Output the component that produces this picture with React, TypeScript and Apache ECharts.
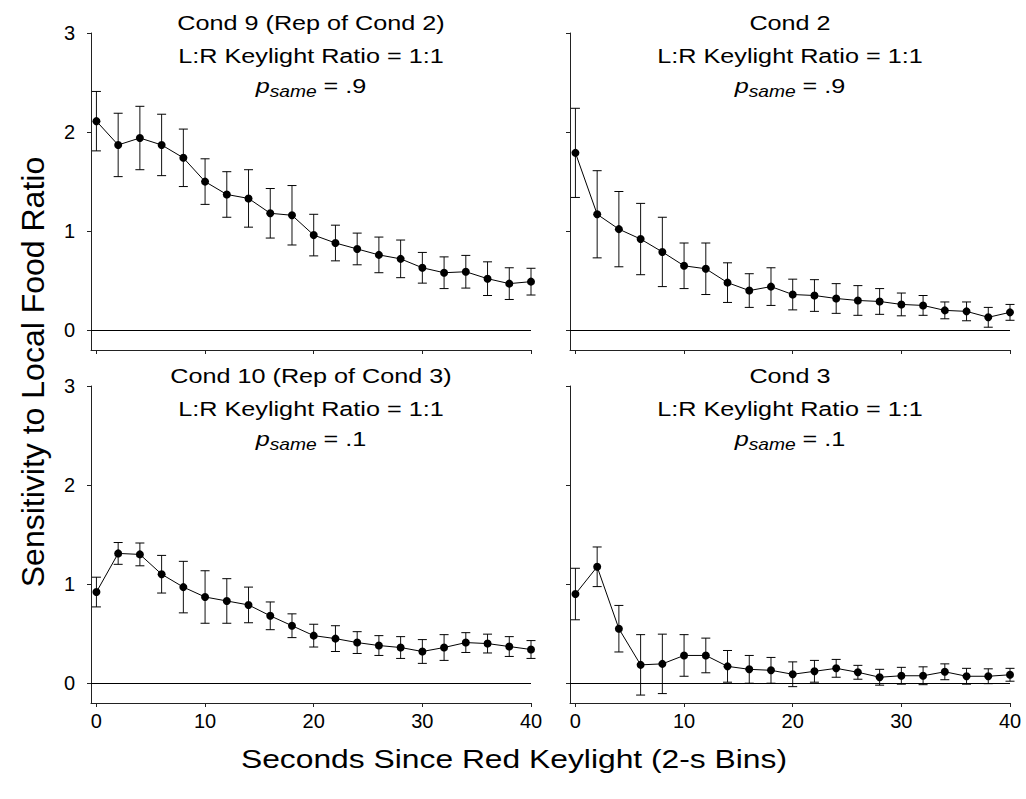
import React, { useEffect, useRef } from 'react';
import * as echarts from 'echarts';

// Time bins (s since red keylight)
const bins = [0, 2, 4, 6, 8, 10, 12, 14, 16, 18, 20, 22, 24, 26, 28, 30, 32, 34, 36, 38, 40];

// Cond 9 (Rep of Cond 2)
const cond9Mean = [2.11, 1.87, 1.94, 1.87, 1.74, 1.50, 1.37, 1.33, 1.18, 1.16, 0.96, 0.88, 0.82, 0.76, 0.72, 0.63, 0.58, 0.59, 0.52, 0.47, 0.49];
const cond9Err = [0.30, 0.32, 0.32, 0.31, 0.29, 0.23, 0.23, 0.29, 0.25, 0.30, 0.21, 0.18, 0.16, 0.18, 0.19, 0.155, 0.16, 0.165, 0.17, 0.16, 0.135];

// Cond 2
const cond2Mean = [1.79, 1.17, 1.02, 0.92, 0.79, 0.65, 0.62, 0.48, 0.40, 0.44, 0.36, 0.35, 0.32, 0.30, 0.29, 0.26, 0.25, 0.20, 0.19, 0.13, 0.18];
const cond2Err = [0.45, 0.44, 0.38, 0.36, 0.35, 0.23, 0.26, 0.20, 0.17, 0.19, 0.155, 0.16, 0.15, 0.15, 0.13, 0.115, 0.10, 0.085, 0.095, 0.10, 0.08];

// Cond 10 (Rep of Cond 3)
const cond10Mean = [0.92, 1.31, 1.30, 1.10, 0.97, 0.87, 0.83, 0.79, 0.68, 0.58, 0.48, 0.45, 0.41, 0.38, 0.36, 0.32, 0.36, 0.41, 0.40, 0.37, 0.34];
const cond10Err = [0.15, 0.11, 0.115, 0.19, 0.26, 0.265, 0.225, 0.18, 0.14, 0.12, 0.115, 0.13, 0.11, 0.10, 0.11, 0.12, 0.13, 0.10, 0.095, 0.10, 0.09];

// Cond 3
const cond3Mean = [0.90, 1.175, 0.55, 0.185, 0.195, 0.28, 0.28, 0.17, 0.14, 0.13, 0.09, 0.12, 0.15, 0.11, 0.06, 0.075, 0.075, 0.115, 0.07, 0.07, 0.085];
const cond3Err = [0.26, 0.20, 0.235, 0.305, 0.30, 0.21, 0.175, 0.16, 0.14, 0.13, 0.125, 0.11, 0.09, 0.07, 0.08, 0.085, 0.09, 0.08, 0.08, 0.075, 0.065];

const panelTitles = ['Cond 9 (Rep of Cond 2)', 'Cond 2', 'Cond 10 (Rep of Cond 3)', 'Cond 3'];
const ratioLabels = ['L:R Keylight Ratio = 1:1', 'L:R Keylight Ratio = 1:1', 'L:R Keylight Ratio = 1:1', 'L:R Keylight Ratio = 1:1'];
const pSameValues = ['.9', '.9', '.1', '.1'];
const panelMeans = [cond9Mean, cond2Mean, cond10Mean, cond3Mean];
const panelErrs = [cond9Err, cond2Err, cond10Err, cond3Err];

const xTicks = [0, 10, 20, 30, 40];
const yTicks = [0, 1, 2, 3];

const xTitle = 'Seconds Since Red Keylight (2-s Bins)';
const yTitle = 'Sensitivity to Local Food Ratio';

const FONT = '"Liberation Sans", Arial, Helvetica, sans-serif';
const SX = 1.2;

export default function App() {
  const ref = useRef<HTMLDivElement>(null);

  useEffect(() => {
    document.body.style.margin = '0';
    const chart = echarts.init(ref.current as HTMLDivElement, null, { renderer: 'svg' });

    const layout = [
      { left: 91, top: 33 },
      { left: 570, top: 33 },
      { left: 91, top: 386 },
      { left: 570, top: 386 },
    ];
    const W = 440;
    const H = 317;

    const grid = layout.map((l) => ({ left: l.left, top: l.top, width: W, height: H, containLabel: false }));

    const xAxis = layout.map((_, i) => ({
      type: 'value',
      gridIndex: i,
      min: -0.5,
      max: 40,
      axisLine: { show: true, onZero: false, lineStyle: { color: '#222', width: 1 } },
      axisTick: { show: true, length: 4, customValues: xTicks, lineStyle: { color: '#222', width: 1 } },
      axisLabel: {
        show: i >= 2,
        customValues: xTicks,
        fontSize: 20,
        color: '#000',
        margin: 8,
        fontFamily: FONT,
      },
      splitLine: { show: false },
    }));

    const yAxis = layout.map((_, i) => ({
      type: 'value',
      gridIndex: i,
      min: -0.2,
      max: 3,
      axisLine: { show: true, onZero: false, lineStyle: { color: '#222', width: 1 } },
      axisTick: { show: true, length: 4, customValues: yTicks, lineStyle: { color: '#222', width: 1 } },
      axisLabel: {
        show: i % 2 === 0,
        customValues: yTicks,
        fontSize: 20,
        color: '#000',
        margin: 16,
        fontFamily: FONT,
      },
      splitLine: { show: false },
    }));

    const series: any[] = [];
    panelMeans.forEach((mean, i) => {
      const err = panelErrs[i];
      series.push({
        type: 'custom',
        xAxisIndex: i,
        yAxisIndex: i,
        z: 2,
        silent: true,
        clip: false,
        data: bins.map((b, k) => [b, mean[k] - err[k], mean[k] + err[k]]),
        encode: { x: 0, y: [1, 2] },
        renderItem: (params: any, api: any) => {
          const x = api.value(0);
          const lo = api.value(1);
          const hi = api.value(2);
          const pT = api.coord([x, hi]);
          const pB = api.coord([x, lo]);
          const cap = 4.5;
          return {
            type: 'group',
            children: [
              { type: 'line', shape: { x1: pT[0], y1: pT[1], x2: pB[0], y2: pB[1] }, style: { stroke: '#111', lineWidth: 1 } },
              { type: 'line', shape: { x1: pT[0] - cap, y1: pT[1], x2: pT[0] + cap, y2: pT[1] }, style: { stroke: '#000', lineWidth: 1 } },
              { type: 'line', shape: { x1: pB[0] - cap, y1: pB[1], x2: pB[0] + cap, y2: pB[1] }, style: { stroke: '#000', lineWidth: 1 } },
            ],
          };
        },
      });
      series.push({
        type: 'line',
        xAxisIndex: i,
        yAxisIndex: i,
        z: 3,
        silent: true,
        data: bins.map((b, k) => [b, mean[k]]),
        symbol: 'circle',
        symbolSize: 8,
        showSymbol: true,
        itemStyle: { color: '#000' },
        lineStyle: { color: '#000', width: 1 },
        markLine: {
          silent: true,
          symbol: 'none',
          label: { show: false },
          lineStyle: { color: '#000', width: 1, type: 'solid' },
          data: [{ yAxis: 0 }],
        },
      });
    });

    const titleY = [23, 56, 86];
    const graphic: any[] = [];
    layout.forEach((l, i) => {
      const cx = l.left + W / 2;
      const dy = l.top - 33;
      graphic.push({
        type: 'text',
        x: cx,
        y: titleY[0] + dy,
        scaleX: SX,
        style: {
          text: panelTitles[i],
          fontSize: 21,
          fontFamily: FONT,
          fill: '#000',
          align: 'center',
          verticalAlign: 'middle',
          textAlign: 'center',
          textVerticalAlign: 'middle',
        },
      });
      graphic.push({
        type: 'text',
        x: cx,
        y: titleY[1] + dy,
        scaleX: SX,
        style: {
          text: ratioLabels[i],
          fontSize: 21,
          fontFamily: FONT,
          fill: '#000',
          align: 'center',
          verticalAlign: 'middle',
          textAlign: 'center',
          textVerticalAlign: 'middle',
        },
      });
      graphic.push({
        type: 'text',
        x: cx,
        y: titleY[2] + dy,
        scaleX: SX,
        style: {
          text: '{p|p}{s|same}{n| = ' + pSameValues[i] + '}',
          fontSize: 21,
          fontFamily: FONT,
          fill: '#000',
          align: 'center',
          verticalAlign: 'middle',
          textAlign: 'center',
          textVerticalAlign: 'middle',
          rich: {
            p: { fontSize: 21, fontStyle: 'italic', fontFamily: FONT, fill: '#000' },
            s: { fontSize: 16, fontStyle: 'italic', fontFamily: FONT, fill: '#000', padding: [12, 0, 0, 0] },
            n: { fontSize: 21, fontFamily: FONT, fill: '#000' },
          },
        },
      });
    });

    graphic.push({
      type: 'text',
      x: 514,
      y: 759,
      scaleX: SX,
      style: {
        text: xTitle,
        fontSize: 26.5,
        fontFamily: FONT,
        fill: '#000',
        align: 'center',
        verticalAlign: 'middle',
        textAlign: 'center',
        textVerticalAlign: 'middle',
      },
    });
    graphic.push({
      type: 'text',
      x: 33,
      y: 372,
      rotation: Math.PI / 2,
      style: {
        text: yTitle,
        fontSize: 32,
        fontFamily: FONT,
        fill: '#000',
        align: 'center',
        verticalAlign: 'middle',
        textAlign: 'center',
        textVerticalAlign: 'middle',
      },
    });

    chart.setOption({
      animation: false,
      backgroundColor: '#fff',
      grid,
      xAxis,
      yAxis,
      series,
      graphic,
    });

    return () => {
      chart.dispose();
    };
  }, []);

  return <div ref={ref} style={{ width: 1026, height: 799, display: 'block' }} />;
}
